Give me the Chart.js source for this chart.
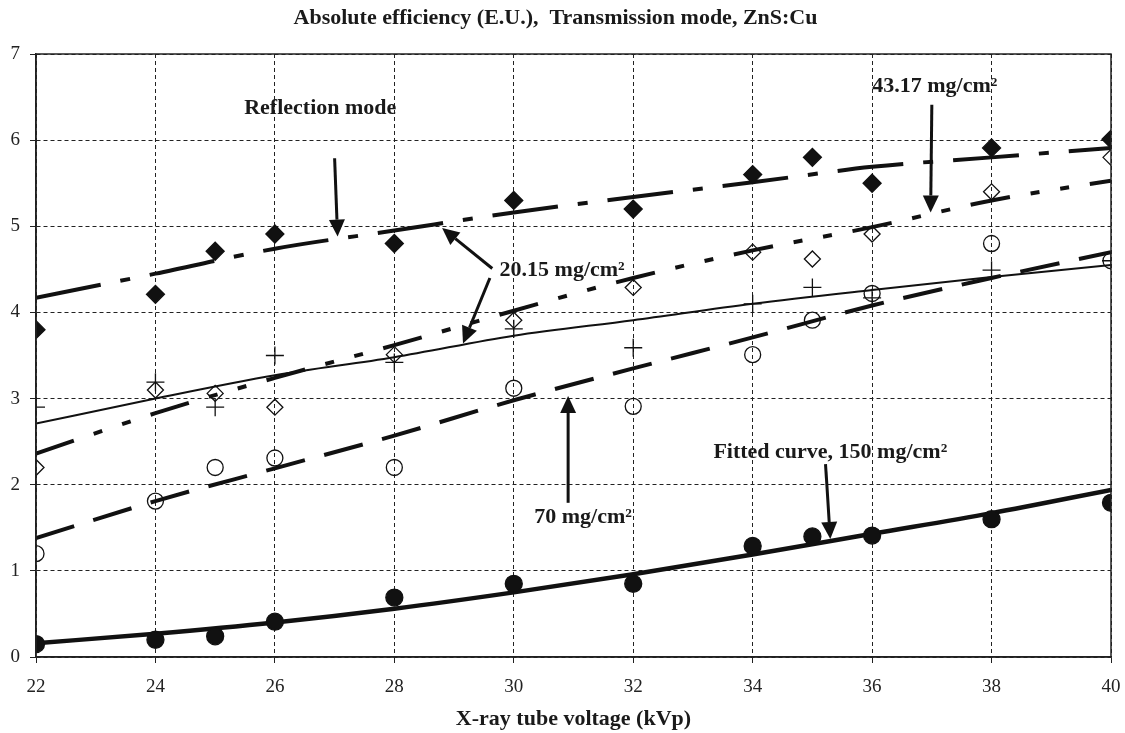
<!DOCTYPE html>
<html>
<head>
<meta charset="utf-8">
<script src="https://cdn.jsdelivr.net/npm/chart.js@4.4.1/dist/chart.umd.min.js"></script>
<style>
    html, body { margin: 0; padding: 0; background: #fff; }
    #wrap { width: 1125px; height: 733px; position: relative; }
</style>
</head>
<body>
<div id="wrap"><canvas id="effChart"></canvas></div>
<script>
// measured points (kVp)
const kvp = [22, 24, 25, 26, 28, 30, 32, 34, 35, 36, 38, 40];
const reflection   = [3.80, 4.21, 4.71, 4.91, 4.80, 5.30, 5.20, 5.60, 5.80, 5.50, 5.91, 6.01];
const openDiamond  = [2.20, 3.10, 3.06, 2.90, 3.51, 3.91, 4.29, 4.70, 4.62, 4.91, 5.40, 5.80];
const plusPts      = [2.90, 3.19, 2.90, 3.50, 3.42, 3.81, 3.59, 4.10, 4.29, 4.17, 4.49, 4.60];
const openCircle   = [1.20, 1.81, 2.20, 2.31, 2.20, 3.12, 2.91, 3.51, 3.91, 4.22, 4.80, 4.60];
const filledCircle = [0.15, 0.20, 0.24, 0.41, 0.69, 0.85, 0.85, 1.29, 1.40, 1.41, 1.60, 1.79];

// fitted lines, read at even kVp
const fitKvp = [22, 24, 26, 28, 30, 32, 34, 36, 38, 40];
const fitReflection   = [4.17, 4.45, 4.74, 4.95, 5.16, 5.34, 5.51, 5.69, 5.80, 5.91];
const fitOpenDiamond  = [2.36, 2.83, 3.24, 3.62, 4.02, 4.40, 4.72, 4.99, 5.30, 5.53];
const fitPlus         = [2.71, 3.00, 3.27, 3.48, 3.73, 3.91, 4.10, 4.26, 4.41, 4.55];
const fitOpenCircle   = [1.38, 1.81, 2.19, 2.57, 2.98, 3.35, 3.71, 4.08, 4.40, 4.70];
const fitFilledCircle = [0.16, 0.27, 0.40, 0.56, 0.75, 0.96, 1.19, 1.43, 1.67, 1.94];

const xTicks = [22, 24, 26, 28, 30, 32, 34, 36, 38, 40];
const yTicks = [0, 1, 2, 3, 4, 5, 6, 7];

// annotation texts and arrows, in data units
const noteTexts = ['Reflection mode', '43.17 mg/cm²', '20.15 mg/cm²', '70 mg/cm²', 'Fitted curve, 150 mg/cm²'];
const noteX = [26.76, 37.05, 30.81, 31.16, 35.30];
const noteY = [6.37, 6.63, 4.49, 1.62, 2.38];
const arrowFrom = [[27.00, 5.79], [37.00, 6.41], [29.64, 4.51], [29.60, 4.40], [30.91, 1.79], [35.22, 2.24]];
const arrowTo   = [[27.05, 4.88], [36.98, 5.16], [28.80, 4.98], [29.15, 3.64], [30.91, 3.03], [35.30, 1.37]];

const serif = '"Liberation Serif", "Times New Roman", serif';

function pts(xs, ys) {
    return xs.map((x, i) => ({ x: x, y: ys[i] }));
}

function fitLine(data, dash, width) {
    return {
        type: 'line',
        data: data,
        borderColor: '#111',
        borderWidth: width,
        borderDash: dash,
        pointRadius: 0,
        fill: false,
        cubicInterpolationMode: 'monotone',
        borderCapStyle: 'butt'
    };
}

function marks(data, style, radius, filled) {
    return {
        type: 'scatter',
        data: data,
        pointStyle: style,
        pointRadius: radius,
        pointBorderWidth: 1.3,
        pointBorderColor: '#111',
        pointBackgroundColor: filled ? '#111' : 'rgba(0,0,0,0)',
        showLine: false
    };
}

// frame + arrows + labels
const extrasPlugin = {
    id: 'extras',
    afterDatasetsDraw(chart) {
        const ctx = chart.ctx;
        const a = chart.chartArea;
        const xs = chart.scales.x, ys = chart.scales.y;

        ctx.save();
        ctx.strokeStyle = '#222';
        ctx.lineWidth = 1.5;
        ctx.strokeRect(a.left, a.top, a.right - a.left, a.bottom - a.top);

        // arrows
        ctx.fillStyle = '#111';
        ctx.strokeStyle = '#111';
        ctx.lineWidth = 3;
        arrowFrom.forEach((f, i) => {
            const x1 = xs.getPixelForValue(f[0]), y1 = ys.getPixelForValue(f[1]);
            const x2 = xs.getPixelForValue(arrowTo[i][0]), y2 = ys.getPixelForValue(arrowTo[i][1]);
            const ang = Math.atan2(y2 - y1, x2 - x1);
            const headLen = 17, headW = 8;
            const bx = x2 - Math.cos(ang) * headLen, by = y2 - Math.sin(ang) * headLen;
            ctx.beginPath();
            ctx.moveTo(x1, y1);
            ctx.lineTo(bx, by);
            ctx.stroke();
            ctx.beginPath();
            ctx.moveTo(x2, y2);
            ctx.lineTo(bx + Math.sin(ang) * headW, by - Math.cos(ang) * headW);
            ctx.lineTo(bx - Math.sin(ang) * headW, by + Math.cos(ang) * headW);
            ctx.closePath();
            ctx.fill();
        });

        // labels
        ctx.font = 'bold 22px ' + serif;
        ctx.textAlign = 'center';
        ctx.textBaseline = 'middle';
        ctx.fillStyle = '#1a1a1a';
        noteTexts.forEach((t, i) => {
            ctx.fillText(t, xs.getPixelForValue(noteX[i]), ys.getPixelForValue(noteY[i]));
        });
        ctx.restore();
    }
};

const ctx = document.getElementById('effChart').getContext('2d');
new Chart(ctx, {
    data: {
        datasets: [
            marks(pts(kvp, reflection), 'rectRot', 9, true),
            marks(pts(kvp, openDiamond), 'rectRot', 8, false),
            marks(pts(kvp, plusPts), 'cross', 9, false),
            marks(pts(kvp, openCircle), 'circle', 8, false),
            marks(pts(kvp, filledCircle), 'circle', 8.5, true),
            fitLine(pts(fitKvp, fitReflection), [66, 20, 10, 20], 4),
            fitLine(pts(fitKvp, fitOpenDiamond), [40, 21, 9, 21, 9, 21], 4),
            fitLine(pts(fitKvp, fitPlus), [], 2),
            fitLine(pts(fitKvp, fitOpenCircle), [40, 20], 4),
            fitLine(pts(fitKvp, fitFilledCircle), [], 4.5)
        ]
    },
    options: {
        responsive: true,
        maintainAspectRatio: false,
        animation: false,
        layout: { padding: { top: 0, right: 14, bottom: 0, left: 0 } },
        scales: {
            x: {
                type: 'linear',
                min: 22,
                max: 40,
                afterFit: s => { s.height = 76; s.paddingLeft = 0; s.paddingRight = 0; },
                afterBuildTicks: s => { s.ticks = xTicks.map(v => ({ value: v })); },
                grid: { color: '#222', lineWidth: 1, tickLength: 6, tickColor: '#222' },
                border: { display: true, color: '#222', width: 1.5, dash: [4, 3] },
                ticks: { color: '#222', padding: 13, font: { family: serif, size: 19 }, maxRotation: 0 },
                title: {
                    display: true,
                    text: 'X-ray tube voltage (kVp)',
                    color: '#1a1a1a',
                    font: { family: serif, size: 22, weight: 'bold' },
                    padding: { top: 0, bottom: 0 }
                }
            },
            y: {
                min: 0,
                max: 7,
                afterFit: s => { s.width = 36; s.paddingTop = 0; s.paddingBottom = 0; },
                afterBuildTicks: s => { s.ticks = yTicks.map(v => ({ value: v })); },
                grid: { color: '#222', lineWidth: 1, tickLength: 6, tickColor: '#222' },
                border: { display: true, color: '#222', width: 1.5, dash: [4, 3] },
                ticks: { color: '#222', padding: 10, font: { family: serif, size: 19 } }
            }
        },
        plugins: {
            legend: { display: false },
            tooltip: { enabled: false },
            title: {
                display: true,
                text: 'Absolute efficiency (E.U.),  Transmission mode, ZnS:Cu',
                color: '#1a1a1a',
                font: { family: serif, size: 22, weight: 'bold' },
                padding: { top: 5, bottom: 22.6 }
            }
        }
    },
    plugins: [extrasPlugin]
});
</script>
</body>
</html>
